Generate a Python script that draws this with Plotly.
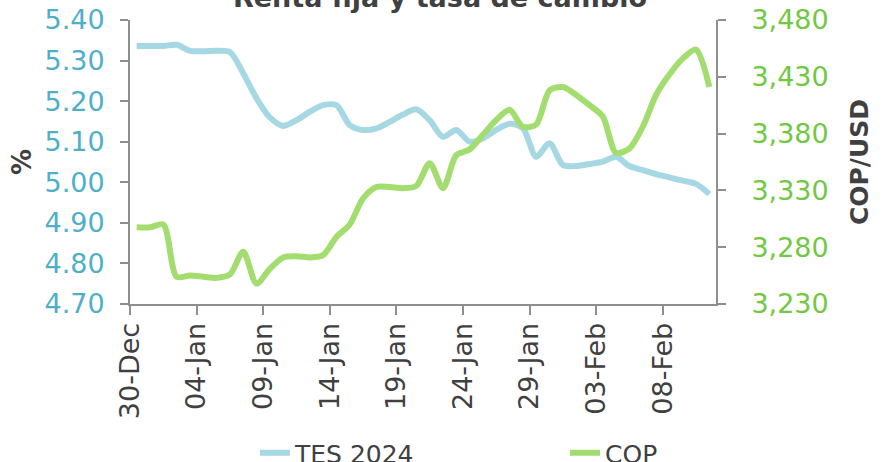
import plotly.graph_objects as go
import pandas as pd

dates = ["2019-12-30", "2019-12-31", "2020-01-01", "2020-01-02", "2020-01-03", "2020-01-04",
         "2020-01-05", "2020-01-06", "2020-01-07", "2020-01-08", "2020-01-09", "2020-01-10",
         "2020-01-11", "2020-01-12", "2020-01-13", "2020-01-14", "2020-01-15", "2020-01-16",
         "2020-01-17", "2020-01-18", "2020-01-19", "2020-01-20", "2020-01-21", "2020-01-22",
         "2020-01-23", "2020-01-24", "2020-01-25", "2020-01-26", "2020-01-27", "2020-01-28",
         "2020-01-29", "2020-01-30", "2020-01-31", "2020-02-01", "2020-02-02", "2020-02-03",
         "2020-02-04", "2020-02-05", "2020-02-06", "2020-02-07", "2020-02-08", "2020-02-09",
         "2020-02-10", "2020-02-11"]

tes_2024 = [5.336, 5.336, 5.336, 5.339, 5.324, 5.323, 5.324, 5.321, 5.269, 5.207, 5.160,
            5.139, 5.153, 5.174, 5.190, 5.190, 5.141, 5.129, 5.133, 5.149, 5.167, 5.180,
            5.153, 5.112, 5.129, 5.100, 5.108, 5.129, 5.144, 5.133, 5.063, 5.096, 5.043,
            5.040, 5.045, 5.051, 5.063, 5.040, 5.030, 5.020, 5.012, 5.004, 4.996, 4.971]

cop = [3297.5, 3297.5, 3300, 3254, 3255, 3254, 3253, 3256, 3276, 3248, 3261,
       3271, 3272, 3271, 3273, 3289, 3300, 3323, 3333, 3333, 3332, 3334,
       3354, 3332, 3361, 3366, 3379, 3392, 3401, 3386, 3388, 3418, 3421,
       3414, 3405, 3395, 3363, 3367, 3386, 3414, 3432, 3446, 3454, 3421]

title_text = "Renta fija y tasa de cambio"
left_title = "%"
right_title = "COP/USD"
series_names = ["TES 2024", "COP"]

# Excel-style "between tick marks": each daily point sits in the middle of its day slot
x_vals = pd.to_datetime(dates) + pd.Timedelta(hours=12)

FONT = "DejaVu Sans"
AXIS_GRAY = "#8E8E8E"
TEXT_DARK = "#404040"

fig = go.Figure()
fig.add_trace(go.Scatter(x=x_vals, y=tes_2024, name=series_names[0], mode="lines",
                         line=dict(color="#A6D8E3", width=6, shape="spline", smoothing=0.8),
                         yaxis="y", legend="legend"))
fig.add_trace(go.Scatter(x=x_vals, y=cop, name=series_names[1], mode="lines",
                         line=dict(color="#A3DD6F", width=6, shape="spline", smoothing=0.8),
                         yaxis="y2", legend="legend2"))

legend_common = dict(orientation="h", xanchor="left", xref="container",
                     y=1 - 430 / 462, yanchor="top", yref="container",
                     font=dict(family=FONT, size=25, color=TEXT_DARK),
                     bgcolor="rgba(0,0,0,0)")

fig.update_layout(
    width=887, height=462,
    margin=dict(l=130, r=171, t=20, b=158, autoexpand=False),
    paper_bgcolor="white", plot_bgcolor="white",
    font=dict(family=FONT, size=25, color=TEXT_DARK),
    title=dict(text=title_text, font=dict(family=FONT, size=27, color=TEXT_DARK, weight="bold"),
               x=440 / 887, xanchor="center", xref="container",
               y=1 - 7 / 462, yanchor="bottom", yref="container", automargin=False),
    showlegend=True,
    legend=dict(x=255 / 887, **legend_common),
    legend2=dict(x=565 / 887, **legend_common),
    xaxis=dict(
        type="date", automargin=False,
        range=["2019-12-30", "2020-02-12"],
        tick0="2019-12-30", dtick=5 * 86400000, tickformat="%d-%b",
        tickangle=-90, ticks="outside", ticklen=9, tickwidth=2, tickcolor=AXIS_GRAY,
        showline=True, linecolor=AXIS_GRAY, linewidth=2, showgrid=False, zeroline=False,
        tickfont=dict(family=FONT, size=27, color=TEXT_DARK), ticklabelstandoff=-3,
    ),
    yaxis=dict(
        automargin=False,
        range=[4.70, 5.40], dtick=0.1, tick0=4.7, tickformat=".2f",
        ticks="outside", ticklen=8, tickwidth=2, tickcolor=AXIS_GRAY,
        showline=True, linecolor=AXIS_GRAY, linewidth=2, showgrid=False, zeroline=False,
        tickfont=dict(family=FONT, size=27, color="#4FAFC8"), ticklabelstandoff=10,
        title=dict(text=left_title, font=dict(family=FONT, size=26, color=TEXT_DARK, weight="bold"),
                   standoff=5),
    ),
    yaxis2=dict(
        overlaying="y", side="right", automargin=False,
        range=[3230, 3480], dtick=50, tick0=3230, tickformat=",",
        ticks="outside", ticklen=8, tickwidth=2, tickcolor=AXIS_GRAY,
        showline=True, linecolor=AXIS_GRAY, linewidth=2, showgrid=False, zeroline=False,
        tickfont=dict(family=FONT, size=27, color="#72C843"), ticklabelstandoff=20,
        title=dict(text=right_title, font=dict(family=FONT, size=25, color=TEXT_DARK, weight="bold"),
                   standoff=23),
    ),
)

fig.write_html("out.html", config={"displayModeBar": False},
               post_script="document.body.style.margin='0';")
